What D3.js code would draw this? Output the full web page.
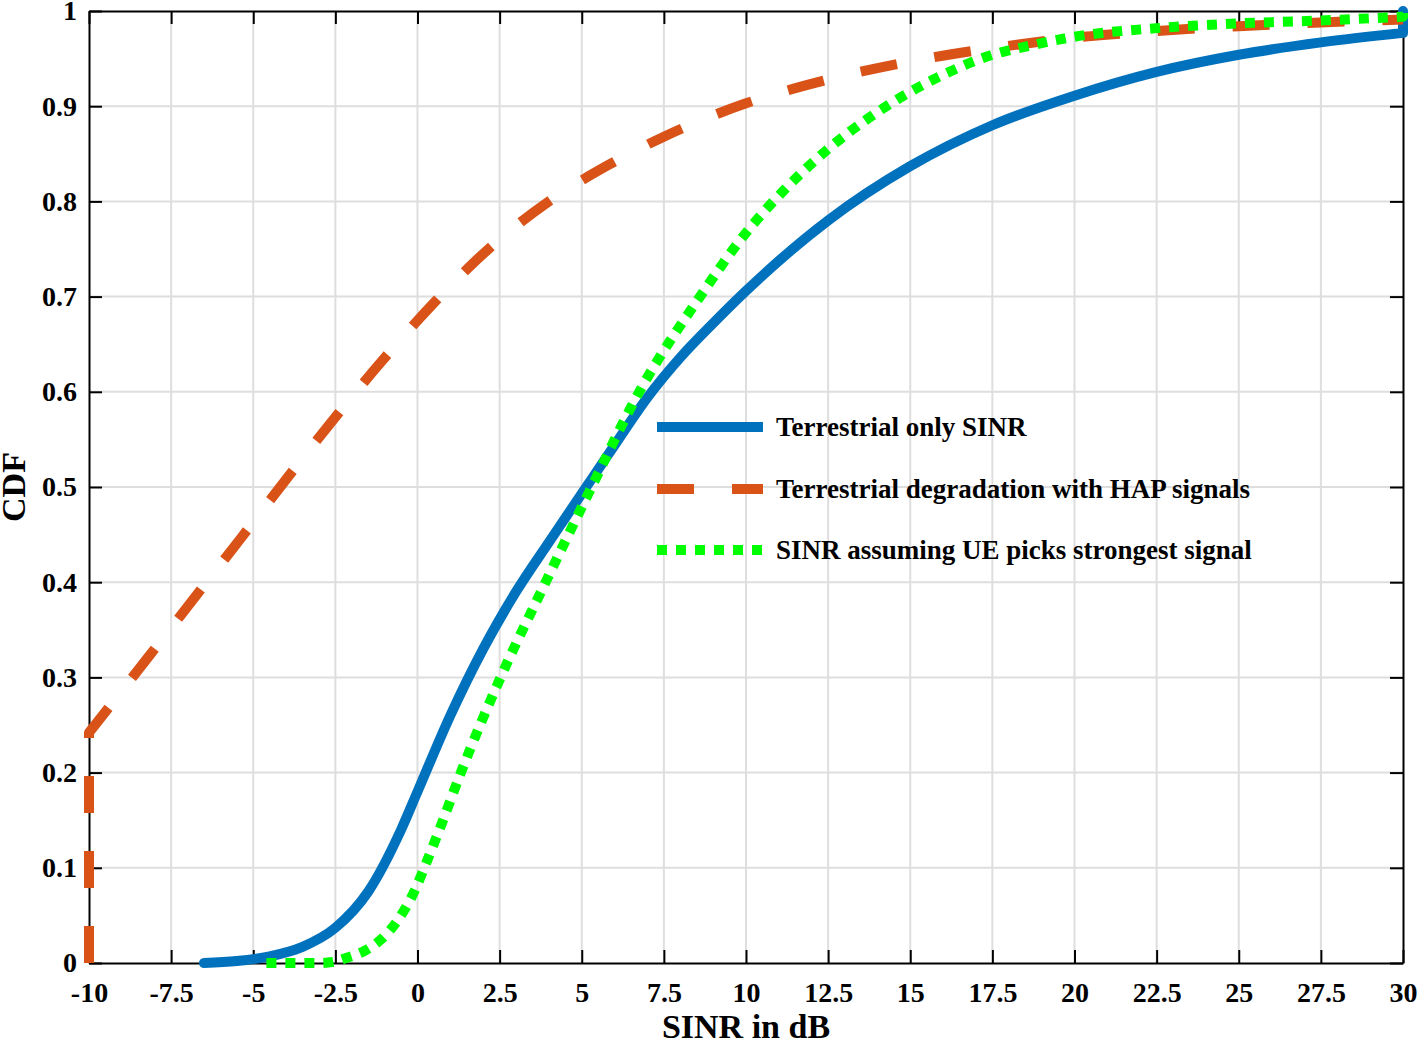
<!DOCTYPE html>
<html><head><meta charset="utf-8">
<script src="https://cdn.jsdelivr.net/npm/d3@7"></script>
<style>
body{margin:0;background:#fff}
svg{display:block}
text{font-family:"Liberation Serif","Times New Roman",serif;font-weight:bold;fill:#000}
</style>
</head><body>
<svg id="chart" width="1418" height="1047"></svg>
<script>
// ---- data ----
const xTickValues = [-10,-7.5,-5,-2.5,0,2.5,5,7.5,10,12.5,15,17.5,20,22.5,25,27.5,30];
const xTickLabels = ["-10","-7.5","-5","-2.5","0","2.5","5","7.5","10","12.5","15","17.5","20","22.5","25","27.5","30"];
const yTickValues = [0,0.1,0.2,0.3,0.4,0.5,0.6,0.7,0.8,0.9,1];
const yTickLabels = ["0","0.1","0.2","0.3","0.4","0.5","0.6","0.7","0.8","0.9","1"];

const seriesNames = ["Terrestrial only SINR","Terrestrial degradation with HAP signals","SINR assuming UE picks strongest signal"];

const terrestrialSinr = [-6.5,-5.5,-4.5,-3.5,-2.5,-1.5,-0.5,0,1,2,3,4,5,6,7,8,9,10,12.5,15,17.5,20,22.5,25,27.5,30];
const terrestrialCdf  = [0,0.002,0.007,0.017,0.037,0.075,0.14,0.18,0.26,0.33,0.39,0.442,0.493,0.544,0.594,0.636,0.672,0.706,0.78,0.837,0.88,0.911,0.936,0.954,0.967,0.977];

const hapSinr = [-10,-8.18,-6.76,-5.36,-4,-2.58,-1.09,0.46,2.13,4,5.8,7.5,10,12.5,15,17.5,20,22.5,25,27.5,30];
const hapCdf  = [0.242,0.322,0.385,0.447,0.508,0.57,0.632,0.692,0.749,0.8,0.838,0.868,0.903,0.928,0.947,0.961,0.972,0.979,0.984,0.988,0.991];

const strongestSinr = [-4.6,-3,-2.6,-2.2,-1.6,-1.1,-0.6,-0.1,0.3,0.7,1.32,2.53,3.9,5.3,6.75,8.6,10,11.25,12.5,13.75,15,16.25,17.5,18.7,20,22.5,25,27.5,30];
const strongestCdf  = [0,0,0.001,0.005,0.013,0.025,0.045,0.075,0.108,0.143,0.2,0.3,0.4,0.5,0.6,0.7,0.767,0.815,0.855,0.888,0.915,0.937,0.954,0.964,0.973,0.982,0.987,0.99,0.994];

// ---- layout ----
const svg = d3.select("#chart");
const L = 89, R = 1403, T = 11, B = 963;
const x = d3.scaleLinear().domain([-10,30]).range([L,R]);
const y = d3.scaleLinear().domain([0,1]).range([B,T]);

// grid
const grid = svg.append("g").attr("stroke","#dedede").attr("stroke-width",2);
xTickValues.slice(1,-1).forEach(v=>grid.append("line").attr("x1",x(v)).attr("x2",x(v)).attr("y1",T).attr("y2",B));
yTickValues.slice(1,-1).forEach(v=>grid.append("line").attr("y1",y(v)).attr("y2",y(v)).attr("x1",L).attr("x2",R));

// axes
function styleAxis(g){
  g.selectAll(".domain").attr("stroke","#000").attr("stroke-width",2);
  g.selectAll(".tick line").attr("stroke","#000").attr("stroke-width",2);
  g.attr("font-family",null).attr("font-size",null);
}
const tick = 13;
svg.append("g").attr("transform",`translate(0,${B})`)
  .call(d3.axisBottom(x).tickValues(xTickValues).tickFormat((d,i)=>xTickLabels[i]).tickSizeInner(-tick).tickSizeOuter(0).tickPadding(19))
  .call(styleAxis).selectAll("text").style("font-size","28px");
svg.append("g").attr("transform",`translate(0,${T})`)
  .call(d3.axisTop(x).tickValues(xTickValues).tickFormat("").tickSizeInner(-tick).tickSizeOuter(0))
  .call(styleAxis);
svg.append("g").attr("transform",`translate(${L},0)`)
  .call(d3.axisLeft(y).tickValues(yTickValues).tickFormat((d,i)=>yTickLabels[i]).tickSizeInner(-tick).tickSizeOuter(0).tickPadding(12))
  .call(styleAxis).selectAll("text").style("font-size","28px");
svg.append("g").attr("transform",`translate(${R},0)`)
  .call(d3.axisRight(y).tickValues(yTickValues).tickFormat("").tickSizeInner(-tick).tickSizeOuter(0))
  .call(styleAxis);

// axis labels
svg.append("text").attr("x",(L+R)/2).attr("y",1038).attr("text-anchor","middle").style("font-size","34px").text("SINR in dB");
svg.append("text").attr("transform",`translate(25,${(T+B)/2}) rotate(-90)`).attr("text-anchor","middle").style("font-size","34px").text("CDF");

// lines
const lineGen = d3.line().x(d=>x(d[0])).y(d=>y(d[1])).curve(d3.curveMonotoneX);
const blueD = lineGen(d3.zip(terrestrialSinr,terrestrialCdf)) + `L${x(30)},${y(1)}`;
const orangeD = `M${x(-10)},${y(0)}L` + lineGen(d3.zip(hapSinr,hapCdf)).slice(1);
const greenD = lineGen(d3.zip(strongestSinr,strongestCdf)) + `L${x(30)},${y(1)}`;

const styles = [
  {stroke:"#0072BD", dash:null, cap:"round"},
  {stroke:"#D95319", dash:"37,38", cap:"butt"},
  {stroke:"#00FF00", dash:"10,9", cap:"butt"}
];
[blueD, orangeD, greenD].forEach((d,i)=>{
  svg.append("path").attr("d",d).attr("fill","none")
    .attr("stroke",styles[i].stroke).attr("stroke-width",10)
    .attr("stroke-dasharray",styles[i].dash).attr("stroke-linecap",styles[i].cap)
    .attr("stroke-linejoin","round");
});

// legend
const legY = [427,489,550];
seriesNames.forEach((name,i)=>{
  svg.append("line").attr("x1",657).attr("x2",763).attr("y1",legY[i]).attr("y2",legY[i])
    .attr("stroke",styles[i].stroke).attr("stroke-width",10)
    .attr("stroke-dasharray",styles[i].dash).attr("stroke-linecap","butt");
  svg.append("text").attr("x",776).attr("y",legY[i]+9).style("font-size","27px").text(name);
});
</script>
</body></html>
